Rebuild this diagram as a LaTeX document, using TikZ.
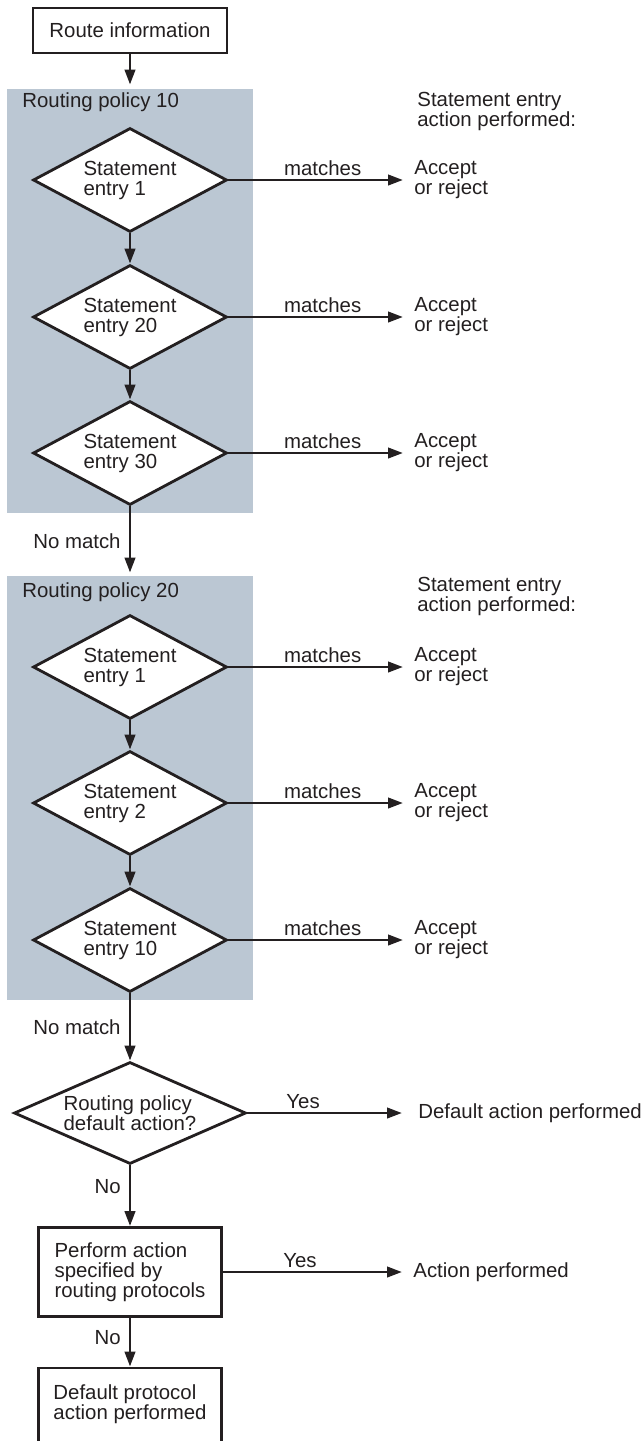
\documentclass[tikz,border=0pt]{standalone}
\usepackage{fontspec}
\setmainfont{Liberation Sans}
\usetikzlibrary{shapes.geometric,arrows.meta}
\definecolor{panelgray}{RGB}{187,199,211}
\definecolor{ink}{RGB}{35,31,32}
\begin{document}
\begin{tikzpicture}[x=0.5pt,y=-0.5pt,font=\fontsize{10.2}{10}\selectfont,
	every node/.style={text=ink},
	flow/.style={draw=ink,line width=1.4pt,-{Triangle[length=7.5pt,width=5.2pt]}},
	panel/.style={fill=panelgray,minimum width=123pt,minimum height=212pt,inner sep=0pt},
	entry/.style={diamond,draw=ink,line width=1.4pt,fill=white,aspect=2.3,inner sep=0pt,minimum width=97pt,minimum height=52pt,align=left},
	start/.style={draw=ink,line width=1.4pt,fill=white,minimum width=97pt,minimum height=22.5pt,inner sep=0pt},
	task/.style={draw=ink,line width=1.4pt,fill=white,minimum width=91.5pt,inner sep=0pt,minimum height=44.5pt,align=left},
	outcome/.style={anchor=west,align=left,inner xsep=5.5pt,inner ysep=0pt},
	tag/.style={inner sep=1.5pt},
	side/.style={left,inner xsep=4pt,inner ysep=0pt}]
	\useasboundingbox (0,0) rectangle (641,1441);
	\clip (0,0) rectangle (641,1441);
	\node[panel] (pol10) at (130,301) {};
	\node[panel] (pol20) at (130,788) {};
	\node[anchor=base west,inner sep=0pt] (pol10name) at (22,107) {Routing policy 10};
	\node[anchor=base west,inner sep=0pt] (pol20name) at (22,597) {Routing policy 20};
	\node[anchor=west,align=left,inner sep=0pt] (head10) at (417,111) {Statement entry\\action performed:};
	\node[anchor=west,align=left,inner sep=0pt] (head20) at (417,596) {Statement entry\\action performed:};
	\node[start] (route) at (130,30.5) {Route information};
	\node[entry] (s11) at (130,180) {Statement\\entry 1};
	\node[entry] (s12) at (130,317) {Statement\\entry 20};
	\node[entry] (s13) at (130,453) {Statement\\entry 30};
	\node[entry] (s21) at (130,667) {Statement\\entry 1};
	\node[entry] (s22) at (130,803) {Statement\\entry 2};
	\node[entry] (s23) at (130,940) {Statement\\entry 10};
	\node[outcome] (a11) at (403,180) {Accept\\or reject};
	\node[outcome] (a12) at (403,317) {Accept\\or reject};
	\node[outcome] (a13) at (403,453) {Accept\\or reject};
	\node[outcome] (a21) at (403,667) {Accept\\or reject};
	\node[outcome] (a22) at (403,803) {Accept\\or reject};
	\node[outcome] (a23) at (403,940) {Accept\\or reject};
	\node[entry,minimum width=116pt,minimum height=51pt] (dflt) at (130,1113) {Routing policy\\default action?};
	\node[outcome,inner xsep=8pt] (dfltres) at (402,1113) {Default action performed};
	\node[task] (perform) at (130,1272) {Perform action\\specified by\\routing protocols};
	\node[outcome] (performres) at (402,1272) {Action performed};
	\node[task] (fallback) at (130,1412.5) {Default protocol\\action performed\\\mbox{}};
	\draw[flow,shorten >=2pt] (route) -- (pol10);
	\draw[flow] (s11) -- (s12);
	\draw[flow] (s12) -- (s13);
	\draw[flow,shorten >=1.5pt] (s13) -- node[side] {No match} (pol20);
	\draw[flow] (s21) -- (s22);
	\draw[flow] (s22) -- (s23);
	\draw[flow] (s23) -- node[side] {No match} (dflt);
	\draw[flow] (s11.east) -- node[tag,above,pos=0.54] {matches} (a11.west);
	\draw[flow] (s12.east) -- node[tag,above,pos=0.54] {matches} (a12.west);
	\draw[flow] (s13.east) -- node[tag,above,pos=0.54] {matches} (a13.west);
	\draw[flow] (s21.east) -- node[tag,above,pos=0.54] {matches} (a21.west);
	\draw[flow] (s22.east) -- node[tag,above,pos=0.54] {matches} (a22.west);
	\draw[flow] (s23.east) -- node[tag,above,pos=0.54] {matches} (a23.west);
	\draw[flow] (dflt) -- node[side,pos=0.35] {No} (perform);
	\draw[flow] (dflt.east) -- node[tag,above,pos=0.36] {Yes} (dfltres.west);
	\draw[flow] (perform.east) -- node[tag,above,pos=0.43] {Yes} (performres.west);
	\draw[flow] (perform) -- node[side,pos=0.4] {No} (fallback);
\end{tikzpicture}
\end{document}
